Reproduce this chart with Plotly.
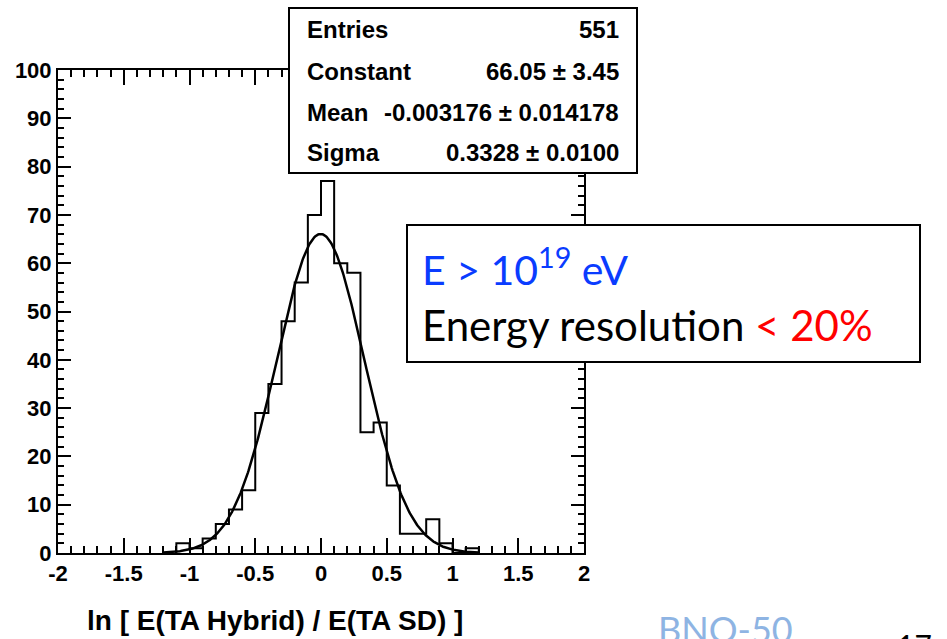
import numpy as np
import plotly.graph_objects as go

# ---------------- data ----------------
bin_width = 0.1
bin_lo_edges = [-1.1, -1.0, -0.9, -0.8, -0.7, -0.6, -0.5, -0.4, -0.3, -0.2, -0.1,
                0.0, 0.1, 0.2, 0.3, 0.4, 0.5, 0.6, 0.7, 0.8, 0.9, 1.0, 1.1]
counts = [2, 1, 3, 6, 9, 13, 29, 35, 48, 56, 70,
          77, 60, 58, 25, 27, 14, 4, 4, 7, 2, 0, 1]

fit_constant = 66.05
fit_mean = -0.003176
fit_sigma = 0.3328
fit_range = [-1.2, 1.2]

stats_labels = ["Entries", "Constant", "Mean", "Sigma"]
stats_values = ["551", "66.05 \u00b1 3.45", "-0.003176 \u00b1 0.014178", "0.3328 \u00b1 0.0100"]

x_tickvals = [-2, -1.5, -1, -0.5, 0, 0.5, 1, 1.5, 2]
x_ticktext = ["-2", "-1.5", "-1", "-0.5", "0", "0.5", "1", "1.5", "2"]
y_tickvals = [0, 10, 20, 30, 40, 50, 60, 70, 80, 90, 100]
y_ticktext = [str(v) for v in y_tickvals]

x_title = "ln [ E(TA Hybrid) / E(TA SD) ]"

# ---------------- geometry ----------------
W, H = 947, 639
L, R, T, B = 58, 584, 70, 553  # plot-area pixel box


def px(x):
    return (x - L) / (R - L)


def py(y):
    return (B - y) / (B - T)


# step outline of histogram
hx = [bin_lo_edges[0]] + list(bin_lo_edges) + [bin_lo_edges[-1] + bin_width]
hy = [0] + list(counts) + [0]

# fit curve from fitted parameters
fx = np.linspace(fit_range[0], fit_range[1], 400)
fy = fit_constant * np.exp(-0.5 * ((fx - fit_mean) / fit_sigma) ** 2)

fig = go.Figure()
fig.add_trace(go.Scatter(x=hx, y=hy, mode="lines", line=dict(color="black", width=2, shape="hv"),
                         showlegend=False, hoverinfo="skip"))
fig.add_trace(go.Scatter(x=fx, y=fy, mode="lines", line=dict(color="black", width=2.5),
                         showlegend=False, hoverinfo="skip"))

tickfont = dict(family="Liberation Sans, Arial, sans-serif", size=22, color="black", weight="bold")

fig.update_xaxes(range=[-2, 2], showgrid=False, zeroline=False, showline=True, linecolor="black",
                 linewidth=2, mirror="allticks", ticks="inside", ticklen=15, tickwidth=2,
                 tickcolor="black", tickvals=x_tickvals, ticktext=x_ticktext, tickfont=tickfont,
                 minor=dict(ticks="inside", dtick=0.1, tick0=0, ticklen=7, tickwidth=2,
                            tickcolor="black", showgrid=False))
fig.update_yaxes(range=[0, 100], showgrid=False, zeroline=False, showline=True, linecolor="black",
                 linewidth=2, mirror="allticks", ticks="inside", ticklen=13, tickwidth=2,
                 tickcolor="black", tickvals=y_tickvals, ticktext=y_ticktext, tickfont=tickfont,
                 minor=dict(ticks="inside", dtick=2, tick0=0, ticklen=6, tickwidth=2,
                            tickcolor="black", showgrid=False))

shapes = []
annotations = []

# stats box
shapes.append(dict(type="rect", xref="paper", yref="paper", x0=px(289), x1=px(637), y0=py(173), y1=py(8),
                   fillcolor="white", line=dict(color="black", width=2), layer="above"))
stat_rows_y = [30, 71, 112, 152]
statfont = dict(family="Liberation Sans, Arial, sans-serif", size=24, color="black", weight="bold")
for lab, val, yy in zip(stats_labels, stats_values, stat_rows_y):
    annotations.append(dict(xref="paper", yref="paper", x=px(305), y=py(yy), text=lab, showarrow=False,
                            xanchor="left", yanchor="middle", font=statfont))
    annotations.append(dict(xref="paper", yref="paper", x=px(621), y=py(yy), text=val, showarrow=False,
                            xanchor="right", yanchor="middle", font=statfont))

# x-axis title
annotations.append(dict(xref="paper", yref="paper", x=px(275), y=py(620), text=x_title, showarrow=False,
                        xanchor="center", yanchor="middle",
                        font=dict(family="Liberation Sans, Arial, sans-serif", size=28, color="black",
                                  weight="bold")))

# slide text box
shapes.append(dict(type="rect", xref="paper", yref="paper", x0=px(407), x1=px(920), y0=py(362), y1=py(225),
                   fillcolor="white", line=dict(color="black", width=2), layer="above"))
boxfont = "Lato, Open Sans, sans-serif"
annotations.append(dict(xref="paper", yref="paper", x=px(420), y=py(267),
                        text="E > 10<sup>19</sup> eV", showarrow=False, xanchor="left", yanchor="middle",
                        font=dict(family=boxfont, size=41, color="#0a3cff")))
annotations.append(dict(xref="paper", yref="paper", x=px(420), y=py(325),
                        text="Energy resolution <span style='color:#ff0000'>&lt; 20%</span>",
                        showarrow=False, xanchor="left", yanchor="middle",
                        font=dict(family=boxfont, size=42, color="black")))

# slide footer text (cut off by page edge, as in the source slide)
annotations.append(dict(xref="paper", yref="paper", x=px(656), y=py(605), text="BNO-50", showarrow=False,
                        xanchor="left", yanchor="top", font=dict(family=boxfont, size=36, color="#8eb4e3")))
annotations.append(dict(xref="paper", yref="paper", x=px(895), y=py(625), text="17", showarrow=False,
                        xanchor="left", yanchor="top", font=dict(family=boxfont, size=30, color="black")))

fig.update_layout(width=W, height=H, margin=dict(l=L, r=W - R, t=T, b=H - B, pad=0),
                  paper_bgcolor="white", plot_bgcolor="white", shapes=shapes, annotations=annotations,
                  showlegend=False)

fig.write_html("out.html")
